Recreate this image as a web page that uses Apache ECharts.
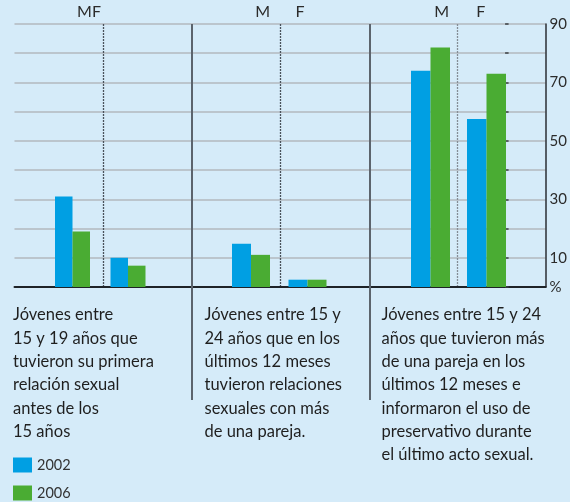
<!DOCTYPE html>
<html><head><meta charset="utf-8">
<script src="https://cdn.jsdelivr.net/npm/echarts@6/dist/echarts.min.js"></script>
<style>html,body{margin:0;padding:0;background:#d5ebf9;}#c{width:570px;height:502px;}</style>
</head><body><div id="c"></div>
<script>
const panelCats = [['M','F'],['M','F'],['M','F']];
const years = ['2002','2006'];
const v2002 = [[31, 10],[14.8, 2.5],[74, 57.5]];
const v2006 = [[19, 7.3],[11, 2.5],[82, 73]];
const yTicks = [10, 30, 50, 70, 90];
const headers = [['MF'], ['M','F'], ['M','F']];
const descriptions = [
  ['Jóvenes entre','15 y 19 años que','tuvieron su primera','relación sexual','antes de los','15 años'],
  ['Jóvenes entre 15 y','24 años que en los','últimos 12 meses','tuvieron relaciones','sexuales con más','de una pareja.'],
  ['Jóvenes entre 15 y 24','años que tuvieron más','de una pareja en los','últimos 12 meses e','informaron el uso de','preservativo durante','el último acto sexual.']
];
const colors = ['#009fe3','#4aac33'];
const FONT = 'Lato';

const chart = echarts.init(document.getElementById('c'));
const TOP = 24, BOTTOM = 215;
const panelGrids = [{left:44.75,width:111},{left:222.75,width:113},{left:402.5,width:112}];
const barW = [17.5,19,19.5];

const grid = [
  {left:14.5,right:22.5,top:TOP,bottom:BOTTOM},
  {left:14.5,right:22.5,top:TOP,bottom:102}
].concat(panelGrids.map(g=>({left:g.left,width:g.width,top:TOP,bottom:BOTTOM})));

const xAxis = [
  {type:'category',gridIndex:0,data:['a','b','c','d','e','f'],
   axisLine:{show:true,lineStyle:{color:'#1e2328',width:2}},axisTick:{show:false},axisLabel:{show:false},
   splitLine:{show:true,showMinLine:false,showMaxLine:false,
     lineStyle:{color:['#4a525b','rgba(0,0,0,0)','#4a525b','rgba(0,0,0,0)','#858d96'],width:1.3,type:[2,1]}}},
  {type:'category',gridIndex:1,data:['a','b','c'],z:3,
   axisLine:{show:false},axisTick:{show:false},axisLabel:{show:false},
   splitLine:{show:true,showMinLine:false,showMaxLine:false,lineStyle:{color:'#5c646d',width:2}}}
].concat(panelCats.map((c,i)=>({type:'category',gridIndex:i+2,data:c,show:false})));

const yAxis = [
  {type:'value',gridIndex:0,position:'right',min:0,max:90,interval:10,
   axisLine:{show:true,lineStyle:{color:'#2a2e33',width:1.5}},axisTick:{show:false},
   axisLabel:{margin:4,color:'#2b2b2b',fontFamily:FONT,fontSize:15,
     formatter:v=>v===0?'%':(yTicks.indexOf(v)>=0?String(v):'')},
   splitLine:{show:true,lineStyle:{color:'#b2b8be',width:1.5}}},
  {type:'value',gridIndex:0,position:'right',offset:-37,min:0,max:90,interval:10,
   axisLine:{show:false},axisLabel:{show:false},splitLine:{show:false},
   axisTick:{show:true,inside:true,length:3.5,lineStyle:{color:'#3a3f44',width:1.5}}},
  {type:'value',gridIndex:1,min:0,max:1,show:false}
].concat(panelCats.map((c,i)=>({type:'value',gridIndex:i+2,min:0,max:90,show:false})));

const series = [];
panelCats.forEach((c,i)=>{
  [v2002,v2006].forEach((vals,k)=>{
    series.push({type:'bar',name:years[k],xAxisIndex:i+2,yAxisIndex:i+3,
      data:vals[i],barWidth:barW[i],barGap:'0%',itemStyle:{color:colors[k]},z:2});
  });
});

const headerPos = [[89],[262.7,300],[441.7,480.7]];
const descX = [13, 204.5, 381.5];
const graphic = [];
headers.forEach((h,i)=>h.forEach((t,j)=>graphic.push({type:'text',x:headerPos[i][j],y:11.5,
  style:{text:t,font:'16px '+FONT,fill:'#2b2b2b',textAlign:'center',textVerticalAlign:'middle'}})));
descriptions.forEach((d,i)=>graphic.push({type:'text',x:descX[i],y:303.5,
  style:{text:d.join('\n'),font:'16.5px '+FONT,lineHeight:23.3,fill:'#1f1f1f',textAlign:'left',textVerticalAlign:'top'}}));

chart.setOption({
  backgroundColor:'#d5ebf9',
  animation:false,
  grid, xAxis, yAxis, series, graphic,
  legend:{data:years,orient:'vertical',left:13,top:457.5,itemWidth:19,itemHeight:15,itemGap:13,
    icon:'rect',textStyle:{color:'#333',fontFamily:FONT,fontSize:14.5},padding:0}
});
</script></body></html>
